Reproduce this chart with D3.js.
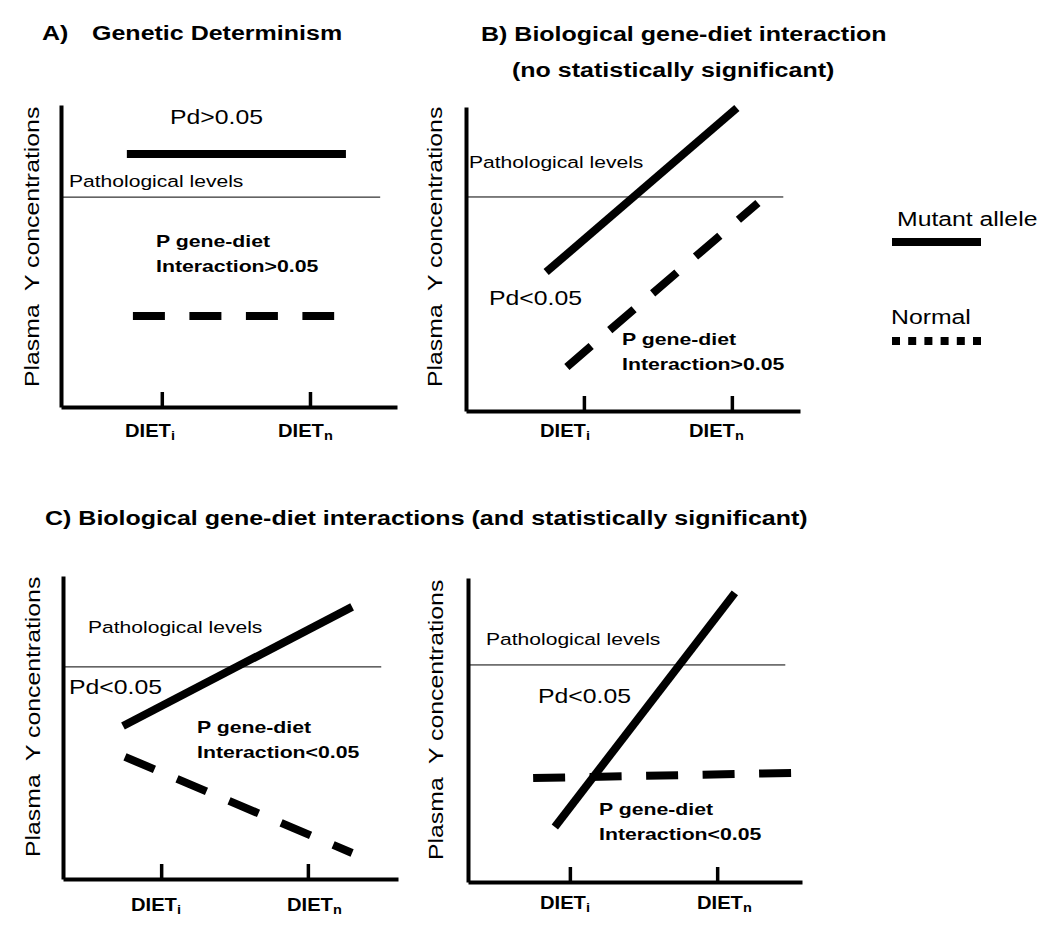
<!DOCTYPE html>
<html><head><meta charset="utf-8">
<script src="https://cdn.jsdelivr.net/npm/d3@7"></script>
<style>
body{margin:0;background:#fff}
svg{display:block}
text{font-family:"Liberation Sans",Arial,Helvetica,sans-serif;fill:#000}
</style>
</head><body>
<svg id="chart" width="1050" height="933"></svg>
<script>
// ---------------- DATA ----------------
const seriesNames = ["Mutant allele", "Normal"];
const xTickBase = ["DIET", "DIET"];
const xTickSub = ["i", "n"];
const yAxisTitle = "Plasma  Y concentrations";
const panelIds = ["A", "B", "C", "D"];

// x tick positions (abstract diet units) per panel
const tickValuesA = [3.0, 7.41];
const tickValuesB = [3.53, 7.96];
const tickValuesC = [2.93, 7.31];
const tickValuesD = [3.05, 7.46];

// pathological threshold level per panel (abstract Y units, 0-10)
const pathologicalLevels = [6.95, 7.04, 7.0, 7.14];
const pathologicalExtent = [0, 9.5];

// series endpoints [diet, Y]
const mutantA = [[1.96, 8.38], [8.48, 8.38]];
const normalA = [[2.14, 3.01], [8.13, 3.01]];
const mutantB = [[2.40, 4.57], [8.11, 9.97]];
const normalB = [[3.02, 1.45], [8.74, 6.84]];
const mutantC = [[1.79, 5.05], [8.63, 8.98]];
const normalC = [[1.85, 4.03], [8.63, 0.86]];
const mutantD = [[2.60, 1.81], [7.99, 9.51]];
const normalD = [[1.95, 3.42], [9.70, 3.59]];

const pdLabels = ["Pd>0.05", "Pd<0.05", "Pd<0.05", "Pd<0.05"];
const geneDietLabel = "P gene-diet";
const interactionLabels = ["Interaction>0.05", "Interaction>0.05", "Interaction<0.05", "Interaction<0.05"];
const pathLabel = "Pathological levels";

// ---------------- LAYOUT ----------------
const SX = 1.22; // horizontal text stretch of the original
const layout = {
  A: {x0: 61, x1: 397, y0: 407, y1: 105, ticks: tickValuesA, mutant: mutantA, normal: normalA,
      ylab: [38.5, 387], path: [69, 187], pd: [170, 124], pdSize: 20, gd: [156, 247],
      diet: [[125, 437], [278, 437]]},
  B: {x0: 466, x1: 800, y0: 411, y1: 107, ticks: tickValuesB, mutant: mutantB, normal: normalB,
      ylab: [442, 387], path: [469, 168], pd: [489, 305], pdSize: 20, gd: [622, 345],
      diet: [[540, 437], [689, 437]]},
  C: {x0: 63, x1: 398, y0: 879, y1: 576, ticks: tickValuesC, mutant: mutantC, normal: normalC,
      ylab: [40, 857], path: [88, 633], pd: [69, 694], pdSize: 20, gd: [197, 733],
      diet: [[131, 911], [287, 911]]},
  D: {x0: 468, x1: 802, y0: 882, y1: 578, ticks: tickValuesD, mutant: mutantD, normal: normalD,
      ylab: [443, 860], path: [486, 645], pd: [538, 703], pdSize: 20, gd: [599, 815],
      diet: [[540, 909], [697, 909]]}
};

const svg = d3.select("#chart");

function txt(g, s, x, y, o) {
  o = o || {};
  const t = g.append("text")
    .attr("transform", `translate(${x},${y})${o.rot ? " rotate(-90)" : ""} scale(${o.sx || SX},1)`)
    .style("font-size", (o.size || 17) + "px")
    .style("font-weight", o.bold ? "bold" : "normal");
  if (s !== null) t.text(s);
  return t;
}

// Titles
const TS = 20.5;
txt(svg, "A)", 42, 40, {size: TS, bold: true});
txt(svg, "Genetic Determinism", 92, 40, {size: TS, bold: true});
txt(svg, "B) Biological gene-diet interaction", 481, 41, {size: TS, bold: true});
txt(svg, "(no statistically significant)", 512, 77, {size: TS, bold: true});
txt(svg, "C) Biological gene-diet interactions (and statistically significant)", 45, 525, {size: TS, bold: true});

panelIds.forEach((id, i) => {
  const L = layout[id];
  const g = svg.append("g");
  const x = d3.scaleLinear().domain([0, 10]).range([L.x0, L.x1]);
  const y = d3.scaleLinear().domain([0, 10]).range([L.y0, L.y1]);

  // pathological threshold
  g.append("line")
    .attr("x1", x(pathologicalExtent[0])).attr("x2", x(pathologicalExtent[1]))
    .attr("y1", y(pathologicalLevels[i])).attr("y2", y(pathologicalLevels[i]))
    .attr("stroke", "#000").attr("stroke-width", 1);

  // axes
  const xa = g.append("g").attr("transform", `translate(0,${L.y0})`)
    .call(d3.axisBottom(x).tickValues(L.ticks).tickSize(-15).tickSizeOuter(0).tickFormat(""));
  xa.select(".domain").attr("stroke", "#000").attr("stroke-width", 4);
  xa.selectAll(".tick line").attr("stroke", "#000").attr("stroke-width", 3.5);
  const ya = g.append("g").attr("transform", `translate(${L.x0},0)`)
    .call(d3.axisLeft(y).tickValues([]).tickSizeOuter(0));
  ya.select(".domain").attr("stroke", "#000").attr("stroke-width", 4);

  // series lines
  const line = d3.line().x(d => x(d[0])).y(d => y(d[1]));
  g.append("path").attr("d", line(L.mutant)).attr("fill", "none")
    .attr("stroke", "#000").attr("stroke-width", 8);
  g.append("path").attr("d", line(L.normal)).attr("fill", "none")
    .attr("stroke", "#000").attr("stroke-width", 8).attr("stroke-dasharray", "32 24.5");

  // labels
  txt(g, yAxisTitle, L.ylab[0], L.ylab[1], {rot: true, size: 20.5, sx: 1.21}).style("white-space", "pre").attr("xml:space", "preserve");
  txt(g, pathLabel, L.path[0], L.path[1], {size: 17, sx: 1.24});
  txt(g, pdLabels[i], L.pd[0], L.pd[1], {size: L.pdSize, sx: 1.24});
  txt(g, geneDietLabel, L.gd[0], L.gd[1], {size: 17, bold: true, sx: 1.25});
  txt(g, interactionLabels[i], L.gd[0], L.gd[1] + 25, {size: 17, bold: true, sx: 1.25});
  L.diet.forEach((p, k) => {
    const t = txt(g, null, p[0], p[1], {size: 18, bold: true, sx: 1.12});
    t.append("tspan").text(xTickBase[k]);
    t.append("tspan").attr("dy", 3).style("font-size", "13px").text(xTickSub[k]);
  });
});

// Legend
const lg = svg.append("g");
const legendY = [226, 324];
const legendDash = [null, "8 8.2"];
seriesNames.forEach((name, k) => {
  txt(lg, name, k === 0 ? 897 : 891, legendY[k], {size: 21, sx: 1.18});
  lg.append("line").attr("x1", 892).attr("x2", 981)
    .attr("y1", legendY[k] + (k === 0 ? 16 : 17)).attr("y2", legendY[k] + (k === 0 ? 16 : 17))
    .attr("stroke", "#000").attr("stroke-width", 8)
    .attr("stroke-dasharray", legendDash[k]);
});
</script>
</body></html>
